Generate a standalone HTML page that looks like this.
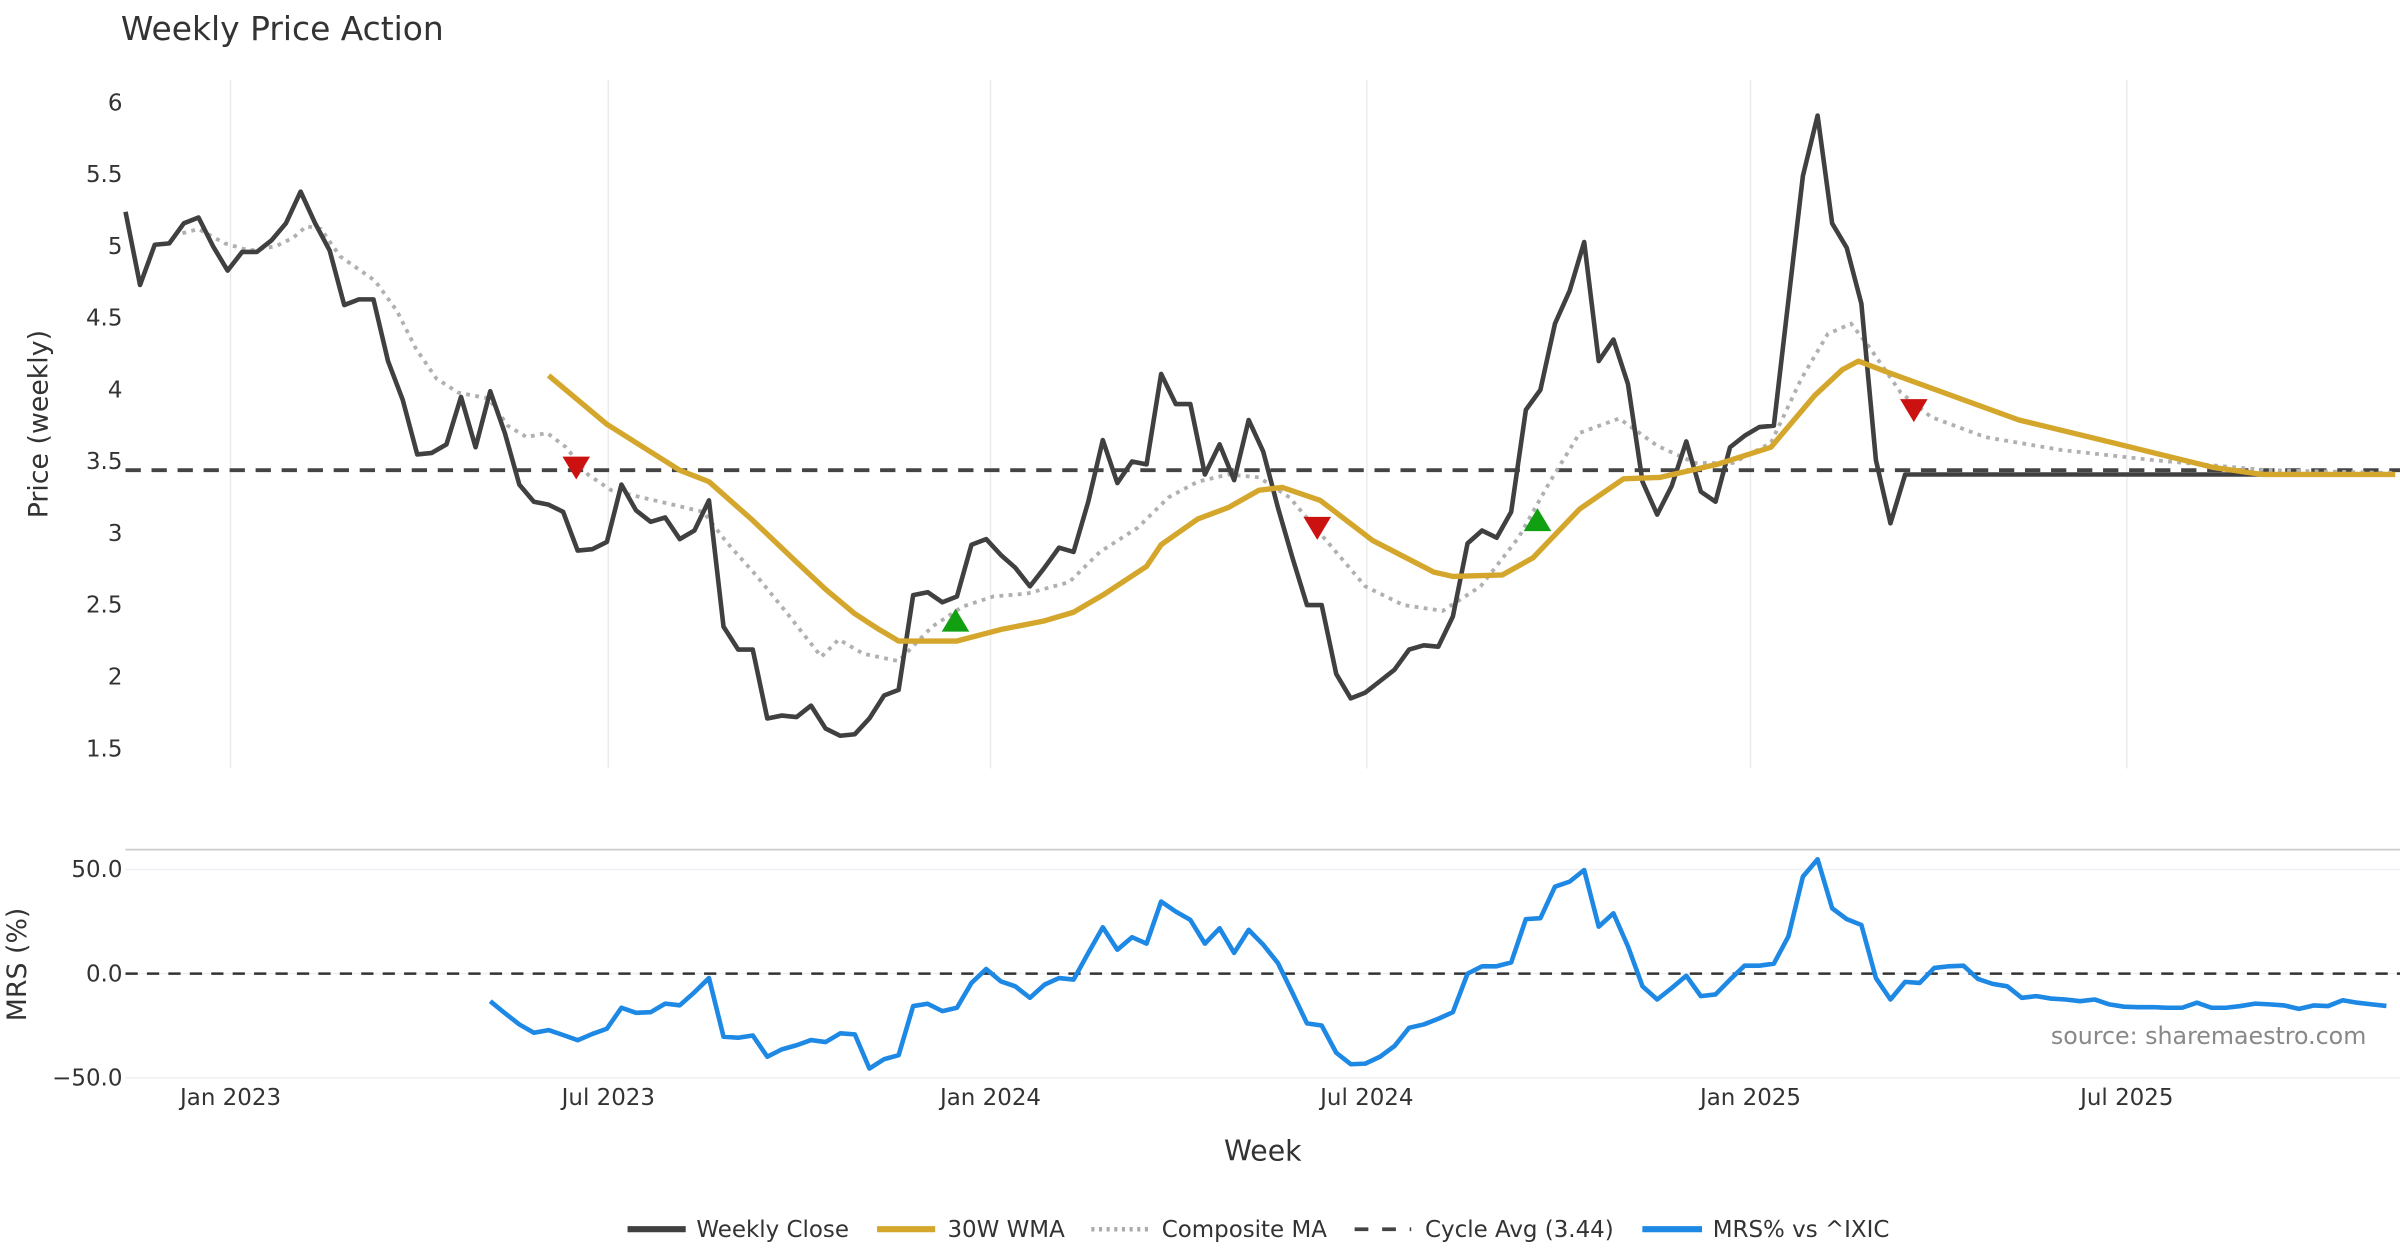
<!DOCTYPE html>
<html><head><meta charset="utf-8"><style>
html,body{margin:0;padding:0;background:#fff;}
svg{display:block;font-family:"DejaVu Sans","Liberation Sans",sans-serif;}
</style></head><body>
<svg id="chart" width="2400" height="1260" viewBox="0 0 1568 823" xmlns="http://www.w3.org/2000/svg">
<text x="79" y="26" font-size="21.5" fill="#333">Weekly Price Action</text>
<g id="grid"></g>
<g id="topPanel"></g>
<g id="botPanel"></g>
<text transform="translate(31,277) rotate(-90)" text-anchor="middle" font-size="17.5" fill="#333">Price (weekly)</text>
<text transform="translate(17,630) rotate(-90)" text-anchor="middle" font-size="17.5" fill="#333">MRS (%)</text>
<text x="825" y="758" text-anchor="middle" font-size="18.5" fill="#333">Week</text>
<text x="1546" y="682" text-anchor="end" font-size="15.5" fill="#888">source: sharemaestro.com</text>
<g font-size="15" fill="#333">
<line x1="410" y1="803" x2="448" y2="803" stroke="#404040" stroke-width="4"/><text x="455" y="808">Weekly Close</text>
<line x1="573" y1="803" x2="611" y2="803" stroke="#d4a72c" stroke-width="4"/><text x="619" y="808">30W WMA</text>
<line x1="713" y1="803" x2="750" y2="803" stroke="#aaa" stroke-width="3" stroke-dasharray="2,3"/><text x="759" y="808">Composite MA</text>
<line x1="885" y1="803" x2="922" y2="803" stroke="#444" stroke-width="2.5" stroke-dasharray="9,9"/><text x="931" y="808">Cycle Avg (3.44)</text>
<line x1="1073" y1="803" x2="1112" y2="803" stroke="#1e88e5" stroke-width="4"/><text x="1119" y="808">MRS% vs ^IXIC</text>
</g>
</svg>
<script>
const closeVals=[5.24,4.73,5.01,5.02,5.16,5.20,5.00,4.83,4.96,4.96,5.04,5.16,5.38,5.16,4.97,4.59,4.63,4.63,4.20,3.93,3.55,3.56,3.62,3.95,3.60,3.99,3.70,3.34,3.22,3.20,3.15,2.88,2.89,2.94,3.34,3.16,3.08,3.11,2.96,3.02,3.23,2.35,2.19,2.19,1.71,1.73,1.72,1.80,1.64,1.59,1.60,1.71,1.87,1.91,2.57,2.59,2.52,2.56,2.92,2.96,2.85,2.76,2.63,2.76,2.90,2.87,3.22,3.65,3.35,3.50,3.48,4.11,3.90,3.90,3.41,3.62,3.37,3.79,3.57,3.18,2.83,2.50,2.50,2.02,1.85,1.89,1.97,2.05,2.19,2.22,2.21,2.42,2.93,3.02,2.97,3.15,3.86,4.00,4.46,4.69,5.03,4.20,4.35,4.04,3.36,3.13,3.33,3.64,3.29,3.22,3.60,3.68,3.74,3.75,4.62,5.49,5.91,5.16,4.99,4.60,3.51,3.07,3.41,3.41,3.41,3.41,3.41,3.41,3.41,3.41,3.41,3.41,3.41,3.41,3.41,3.41,3.41,3.41,3.41,3.41,3.41,3.41,3.41,3.41,3.41,3.41,3.41,3.41,3.41,3.41,3.41,3.41,3.41,3.41,3.41];
const wmaWeeks=[29,33,38,40,43,46,48,50,51.5,53,57,60,63,65,67,70,71,73.5,75.6,77.7,79.3,81.9,85.5,89.7,91,94.4,96.5,99.7,102.7,105.2,109.1,112.8,115.8,117.7,118.8,120.6,129.8,136.3,143.1,146.5,155.6];
const wmaVals=[4.10,3.76,3.44,3.36,3.09,2.80,2.61,2.44,2.34,2.25,2.25,2.33,2.39,2.45,2.57,2.77,2.92,3.10,3.18,3.30,3.32,3.23,2.95,2.73,2.70,2.71,2.83,3.17,3.38,3.39,3.48,3.60,3.96,4.14,4.20,4.13,3.79,3.63,3.46,3.41,3.41];
const compWeeks=[3.9,5,6.8,8.5,10.3,11.5,12.4,13.4,14.7,17.1,18.6,19.9,21.3,22.8,24.9,26.2,27.5,28.9,30.2,31.7,33.3,35.4,37.5,39.6,41.2,43.3,45.3,47.7,48.9,50.6,53,55.3,57.4,59.5,61.8,64.7,66.8,69.4,71.5,73.5,75.6,77.7,79.8,82.4,85,87.6,90.3,92.9,95.5,97.6,99.7,102.4,105,107.6,110.2,112.8,114.9,116.7,118.3,119.6,121.7,123.8,127.5,132.7,139,146.8,155.6];
const compVals=[5.09,5.12,5.02,4.97,5.00,5.06,5.14,5.12,4.93,4.76,4.55,4.29,4.08,3.98,3.94,3.75,3.67,3.70,3.60,3.41,3.30,3.25,3.20,3.15,2.94,2.70,2.45,2.14,2.26,2.16,2.11,2.35,2.49,2.56,2.58,2.66,2.87,3.04,3.25,3.36,3.41,3.39,3.25,2.94,2.63,2.50,2.46,2.63,2.97,3.35,3.70,3.80,3.61,3.49,3.49,3.63,4.08,4.39,4.46,4.29,3.98,3.81,3.67,3.58,3.51,3.44,3.42];
const cycleAvg=3.44;
const sellWeeks=[30.9,81.7,122.6];
const sellVals=[3.46,3.04,3.86];
const buyWeeks=[56.9,96.8];
const buyVals=[2.39,3.09];
const mrsStart=25;
const mrsVals=[-13.2,-19,-24.4,-28.4,-27.1,-29.5,-32,-29,-26.5,-16.4,-18.8,-18.5,-14.4,-15.2,-9,-2.1,-30.3,-30.8,-29.7,-39.9,-36.4,-34.4,-31.9,-32.9,-28.7,-29.2,-45.6,-41.1,-39.2,-15.6,-14.5,-18.0,-16.4,-4.5,2.2,-3.7,-6.1,-11.6,-5.3,-2.1,-2.9,9.9,22.3,11.5,17.5,14.4,34.6,29.8,25.8,14.4,21.8,9.9,21,13.9,5.1,-9.3,-23.9,-24.9,-38,-43.5,-43.2,-39.9,-34.8,-26,-24.4,-21.7,-18.5,0,3.5,3.5,5.4,26.2,26.6,41.8,44.2,49.8,22.6,29,13.1,-6.1,-12.4,-6.9,-1,-10.8,-10,-2.9,3.8,3.8,4.8,17.9,46.6,54.9,31.4,26.2,23.4,-2.1,-12.4,-4,-4.5,2.7,3.5,3.8,-2.6,-4.9,-6.1,-11.6,-10.8,-12,-12.4,-13.2,-12.4,-14.8,-15.9,-16.1,-16.1,-16.4,-16.4,-14,-16.4,-16.4,-15.6,-14.4,-14.8,-15.3,-16.9,-15.3,-15.6,-12.8,-14,-14.8,-15.5];
const tickWeeks=[7.2,33.1,59.3,85.1,111.4,137.2];
const tickLabels=["Jan 2023","Jul 2023","Jan 2024","Jul 2024","Jan 2025","Jul 2025"];
const priceTicks=[6,5.5,5,4.5,4,3.5,3,2.5,2,1.5];
const priceTickLabels=["6","5.5","5","4.5","4","3.5","3","2.5","2","1.5"];
const mrsTicks=[50,0,-50];
const mrsTickLabels=["50.0","0.0","\u221250.0"];

const NS="http://www.w3.org/2000/svg";
const X=w=>82+w*9.53;
const Y=v=>67+(6-v)*93.78;
const YM=v=>636-v*1.36;
function mk(parent,tag,attrs){const e=document.createElementNS(NS,tag);for(const k in attrs)e.setAttribute(k,attrs[k]);parent.appendChild(e);return e;}
const gridG=document.getElementById('grid'),topG=document.getElementById('topPanel'),botG=document.getElementById('botPanel');
tickWeeks.forEach((w,i)=>{
  const g=mk(gridG,'line',{x1:X(w),x2:X(w),y1:52,y2:502,stroke:'#ececec','stroke-width':1});
  
  
  const t=mk(gridG,'text',{x:X(w),y:722,'text-anchor':'middle','font-size':15,fill:'#333'});
  t.textContent=tickLabels[i];
  
  
});
priceTicks.forEach((v,i)=>{
  const t=mk(gridG,'text',{x:80,y:Y(v)+5,'text-anchor':'end','font-size':15,fill:'#333'});
  t.textContent=priceTickLabels[i];
  
  
});
const sep=mk(gridG,'line',{x1:82,x2:1568,y1:555,y2:555,stroke:'#ccc','stroke-width':1.2});


mrsTicks.forEach((v,i)=>{
  const l=mk(gridG,'line',{x1:82,x2:1568,y1:YM(v),y2:YM(v),stroke:'#eef0f4','stroke-width':1});
  
  
  const t=mk(gridG,'text',{x:80,y:YM(v)+5,'text-anchor':'end','font-size':15,fill:'#333'});
  t.textContent=mrsTickLabels[i];
  
  
});
function pts(ws,vs,yf){return vs.map((v,i)=>X(ws[i]).toFixed(1)+','+yf(v).toFixed(1)).join(' ');}
const cy=mk(topG,'line',{x1:82,x2:1568,y1:Y(cycleAvg),y2:Y(cycleAvg),stroke:'#444','stroke-width':2.5,'stroke-dasharray':'10,7'});


const cm=mk(topG,'polyline',{points:pts(compWeeks,compVals,Y),fill:'none',stroke:'#b0b0b0','stroke-width':2.5,'stroke-dasharray':'2.5,3.5'});


const cl=mk(topG,'polyline',{points:pts(closeVals.map((v,i)=>i),closeVals,Y),fill:'none',stroke:'#404040','stroke-width':3,'stroke-linejoin':'round'});


const wm=mk(topG,'polyline',{points:pts(wmaWeeks,wmaVals,Y),fill:'none',stroke:'#d4a72c','stroke-width':3.5,'stroke-linejoin':'round'});


sellWeeks.forEach((w,i)=>{const x=X(w),y=Y(sellVals[i]);
  const p=mk(topG,'polygon',{points:`${x-9},${y-7} ${x+9},${y-7} ${x},${y+8}`,fill:'#cc1111'});
  
  });
buyWeeks.forEach((w,i)=>{const x=X(w),y=Y(buyVals[i]);
  const p=mk(topG,'polygon',{points:`${x-9},${y+7} ${x+9},${y+7} ${x},${y-8}`,fill:'#11a011'});
  
  });
const zl=mk(botG,'line',{x1:82,x2:1568,y1:YM(0),y2:YM(0),stroke:'#333','stroke-width':1.6,'stroke-dasharray':'8,6'});


const mr=mk(botG,'polyline',{points:pts(mrsVals.map((v,i)=>mrsStart+i),mrsVals,YM),fill:'none',stroke:'#1e88e5','stroke-width':3,'stroke-linejoin':'round'});


</script>
</body></html>
